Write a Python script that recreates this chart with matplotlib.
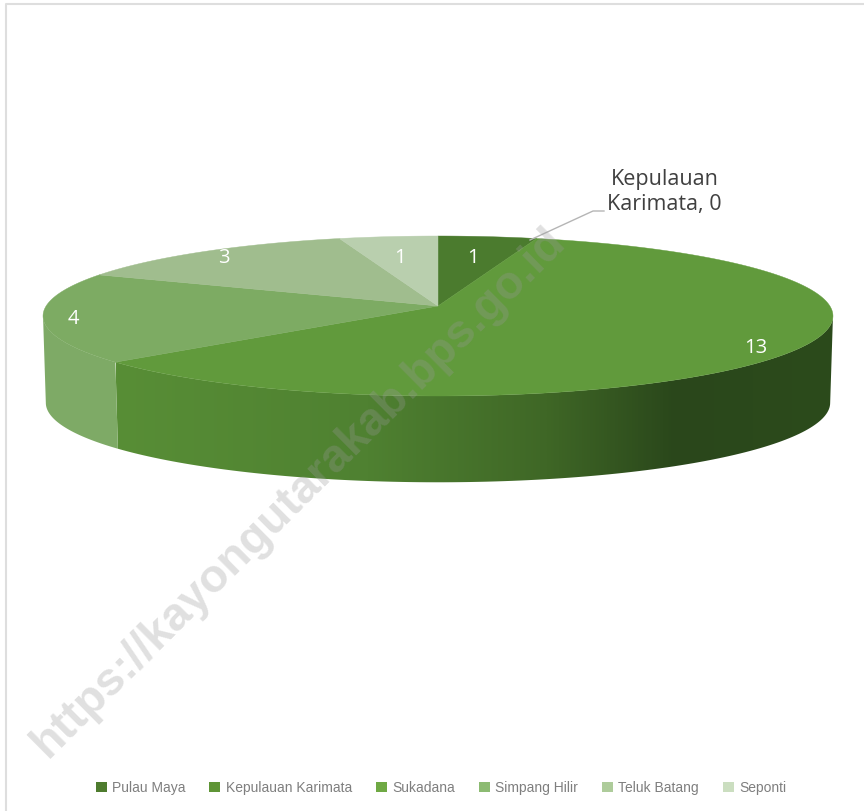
import numpy as np
import matplotlib
matplotlib.use("Agg")
import matplotlib.pyplot as plt
from matplotlib.colors import LinearSegmentedColormap
from matplotlib.patches import Patch, Polygon

# Data
regions = ["Pulau Maya", "Kepulauan Karimata", "Sukadana", "Simpang Hilir", "Teluk Batang", "Seponti"]
values = [1, 0, 13, 4, 3, 1]

top_colors = ["#4b7b2e", "#5c9138", "#619a3c", "#7dab63", "#a0bd8e", "#b9cfae"]
legend_colors = ["#4e7c2e", "#5f9536", "#6fa944", "#8cbb72", "#aecc9b", "#cbdec0"]


# perspective of the pie disc, output is in image pixels
def project(angle, radius=1.0, drop=0.0):
    u = radius * np.sin(angle)
    v = -radius * np.cos(angle)
    x = 438 + 3135 * u / (8 - v)
    y = 306 + 630 * v / (8 - v) + drop
    return x, y


fig = plt.figure(figsize=(8.64, 8.11), dpi=100)
ax = fig.add_axes([0, 0, 1, 1])
ax.set_xlim(0, 864)
ax.set_ylim(811, 0)
ax.axis("off")

# chart frame, only top and left show in the crop
ax.plot([6, 6, 864], [811, 3.5, 3.5], color="#dedede", lw=1.5, zorder=0)

edges = np.cumsum([0] + values) / sum(values) * 2 * np.pi
depth = 87
rim = np.arccos(-1 / 8)  # where the disc is widest on screen

# front sides, only the slices that reach the near half are visible
for i in [2, 3]:
    t0, t1 = edges[i], edges[i + 1]
    if i == 2:
        t0 = rim
    else:
        t1 = 2 * np.pi - rim
    t = np.linspace(t0, t1, 120)
    xt, yt = project(t)
    xb, yb = project(t[::-1], radius=0.993, drop=depth)
    pts = np.column_stack([np.r_[xt, xb], np.r_[yt, yb]])
    if i == 2:
        side = Polygon(pts, closed=True, fc="none", ec="none", zorder=2)
        ax.add_patch(side)
        cmap = LinearSegmentedColormap.from_list(
            "side",
            [(0, "#588e36"), (0.35, "#4f8131"), (0.6, "#3f6726"), (0.78, "#2a471b"), (1, "#2c4b1c")],
        )
        img = ax.imshow(np.linspace(0, 1, 512)[None, :], cmap=cmap, aspect="auto",
                        extent=(116, 834, 500, 300), zorder=2)
        img.set_clip_path(side)
    else:
        ax.add_patch(Polygon(pts, closed=True, fc="#7eaa66", ec="none", zorder=2))

ax.set_xlim(0, 864)
ax.set_ylim(811, 0)

# top face
for i, val in enumerate(values):
    if val == 0:
        continue
    t = np.linspace(edges[i], edges[i + 1], 200)
    x, y = project(t)
    ax.fill(np.r_[438, x], np.r_[306, y], color=top_colors[i], lw=0.3, zorder=3)

# data labels
label_font = ["Open Sans", "DejaVu Sans"]
label_pos = [(473, 258), (756, 348), (73, 319), (224, 258), (400, 258)]
shown = [v for v in values if v > 0]
for (lx, ly), v in zip(label_pos, shown):
    ax.text(lx, ly, str(v), color="white", fontsize=14.5, family=label_font,
            ha="center", va="center", zorder=5)

ax.plot([530, 593, 604], [240, 211, 211], color="#b5b5b5", lw=1, zorder=4)
ax.text(664.5, 192, f"{regions[1]}, {values[1]}".replace(" ", "\n", 1), color="#404040", fontsize=15.5,
        family=label_font, ha="center", va="center", linespacing=1.27, zorder=5)

# legend
handles = [Patch(fc=c, ec="none", label=r) for c, r in zip(legend_colors, regions)]
ax.legend(handles=handles, ncol=6, loc="center", bbox_to_anchor=(441 / 864, 1 - 788 / 811),
          frameon=False, handlelength=0.8, handleheight=0.8, handletextpad=0.38,
          columnspacing=1.72, labelcolor="#7f7f7f",
          prop={"family": "Liberation Sans", "size": 10})

# watermark
ax.text(299, 493, "https://kayongutarakab.bps.go.id", rotation=44.8, rotation_mode="anchor",
        ha="center", va="center", fontsize=33.5, fontweight="bold", family="Liberation Sans",
        color=(0.6, 0.6, 0.6, 0.3), zorder=6)

fig.savefig("out.png", dpi=100)
